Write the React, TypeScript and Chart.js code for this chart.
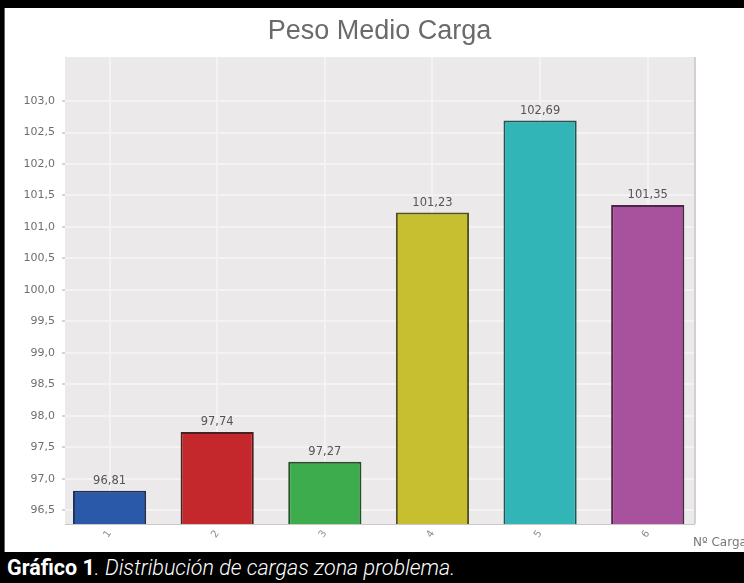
import React, { useEffect, useRef } from "react";
import { Chart, registerables } from "chart.js";

Chart.register(...registerables);

const categories = [1, 2, 3, 4, 5, 6];
const values = [96.81, 97.74, 97.27, 101.23, 102.69, 101.35];
const yTicks = [96.5, 97.0, 97.5, 98.0, 98.5, 99.0, 99.5, 100.0, 100.5, 101.0, 101.5, 102.0, 102.5, 103.0];
const barColors = ["#2b59a9", "#c4282d", "#3dac4c", "#c8bf30", "#31b5b6", "#a8519c"];
const borderColors = ["#1f2f55", "#4a1f1f", "#234f2a", "#55521f", "#1f5556", "#4d2548"];
const title = "Peso Medio Carga";
const xAxisName = "Nº Carga";

const fmt = (v: number, d: number) => v.toFixed(d).replace(".", ",");

export default function App() {
  const ref = useRef<HTMLCanvasElement | null>(null);

  useEffect(() => {
    document.body.style.margin = "0";
    const canvas = ref.current;
    if (!canvas) return;

    const bgPlugin = {
      id: "plotBg",
      beforeDraw(chart: any) {
        const { ctx, chartArea } = chart;
        ctx.save();
        ctx.fillStyle = "#ece9ea";
        ctx.fillRect(chartArea.left, chartArea.top, chartArea.right - chartArea.left, chartArea.bottom - chartArea.top);
        ctx.fillStyle = "#d2d0d1";
        ctx.fillRect(chartArea.right, chartArea.top, 2, chartArea.bottom - chartArea.top);
        ctx.restore();
      },
    };

    const labelPlugin = {
      id: "valueLabels",
      afterDatasetsDraw(chart: any) {
        const { ctx, chartArea } = chart;
        const meta = chart.getDatasetMeta(0);
        ctx.save();
        ctx.font = "11.5px 'DejaVu Sans', sans-serif";
        ctx.fillStyle = "#555";
        ctx.textAlign = "center";
        ctx.textBaseline = "bottom";
        meta.data.forEach((el: any, i: number) => {
          ctx.fillText(fmt(values[i], 2), el.x, el.y - 4);
        });
        ctx.font = "12px 'DejaVu Sans', sans-serif";
        ctx.fillStyle = "#777";
        ctx.textAlign = "left";
        ctx.textBaseline = "middle";
        ctx.fillText(xAxisName, 693, 543);
        ctx.font = "27px 'Liberation Sans', Arial, sans-serif";
        ctx.fillStyle = "#6a6a6a";
        ctx.textAlign = "center";
        ctx.textBaseline = "middle";
        ctx.fillText(title, (chartArea.left + chartArea.right) / 2, 32);
        ctx.restore();
      },
    };

    const chart = new Chart(canvas, {
      type: "bar",
      data: {
        datasets: [
          {
            data: categories.map((c, i) => ({ x: c, y: values[i] })),
            backgroundColor: barColors,
            borderColor: borderColors,
            borderWidth: 2,
            borderSkipped: false,
            barPercentage: 0.68,
            categoryPercentage: 1,
          },
        ],
      },
      options: {
        animation: false,
        responsive: false,
        layout: { padding: { top: 57, right: 50, left: 0, bottom: 0 } },
        plugins: {
          legend: { display: false },
          tooltip: { enabled: false },
          title: { display: false },
        },
        scales: {
          x: {
            type: "linear",
            offset: false,
            min: 0.586,
            max: 6.43,
            afterBuildTicks: (scale: any) => {
              scale.ticks = categories.map((v) => ({ value: v }));
            },
            afterFit: (scale: any) => {
              scale.height = 28;
            },
            ticks: {
              autoSkip: false,
              minRotation: 55,
              maxRotation: 55,
              padding: 4,
              color: "#8a8a8a",
              font: { size: 10, family: "'DejaVu Sans', sans-serif" },
              callback: (v: any) => String(v),
            },
            grid: {
              offset: false,
              color: "#f4f2f3",
              lineWidth: 2,
              drawTicks: false,
            },
            border: { display: true, color: "#c8c6c7", width: 1 },
          },
          y: {
            type: "linear",
            min: 96.28,
            max: 103.7,
            afterBuildTicks: (scale: any) => {
              scale.ticks = yTicks.map((v) => ({ value: v }));
            },
            afterFit: (scale: any) => {
              scale.width = 65;
            },
            ticks: {
              color: "#6e6e6e",
              padding: 7,
              font: { size: 11, family: "'DejaVu Sans', sans-serif" },
              callback: (v: any) => fmt(Number(v), 1),
            },
            grid: {
              color: "#f4f2f3",
              lineWidth: 2,
              tickColor: "#aaa",
              tickLength: 3,
              tickWidth: 1,
            },
            border: { display: false },
          },
        },
      },
      plugins: [bgPlugin, labelPlugin],
    });
    return () => chart.destroy();
  }, []);

  return (
    <div style={{ position: "relative", width: 744, height: 583, background: "#000", overflow: "hidden" }}>
      <div style={{ position: "absolute", left: 4, top: 8, width: 740, height: 544, background: "#fff", borderLeft: "1px solid #666" }} />
      <canvas ref={ref} width={744} height={552} style={{ position: "absolute", left: 0, top: 0, width: 744, height: 552 }} />
      <div
        style={{
          position: "absolute",
          left: 7,
          top: 554,
          color: "#fff",
          fontFamily: "Roboto, 'Open Sans', sans-serif",
          fontSize: 21.5,
          lineHeight: "28px",
          whiteSpace: "nowrap",
        }}
      >
        <span style={{ fontWeight: 700 }}>Gráfico 1</span>
        <span style={{ fontStyle: "italic", fontWeight: 300 }}>. Distribución de cargas zona problema.</span>
      </div>
    </div>
  );
}
